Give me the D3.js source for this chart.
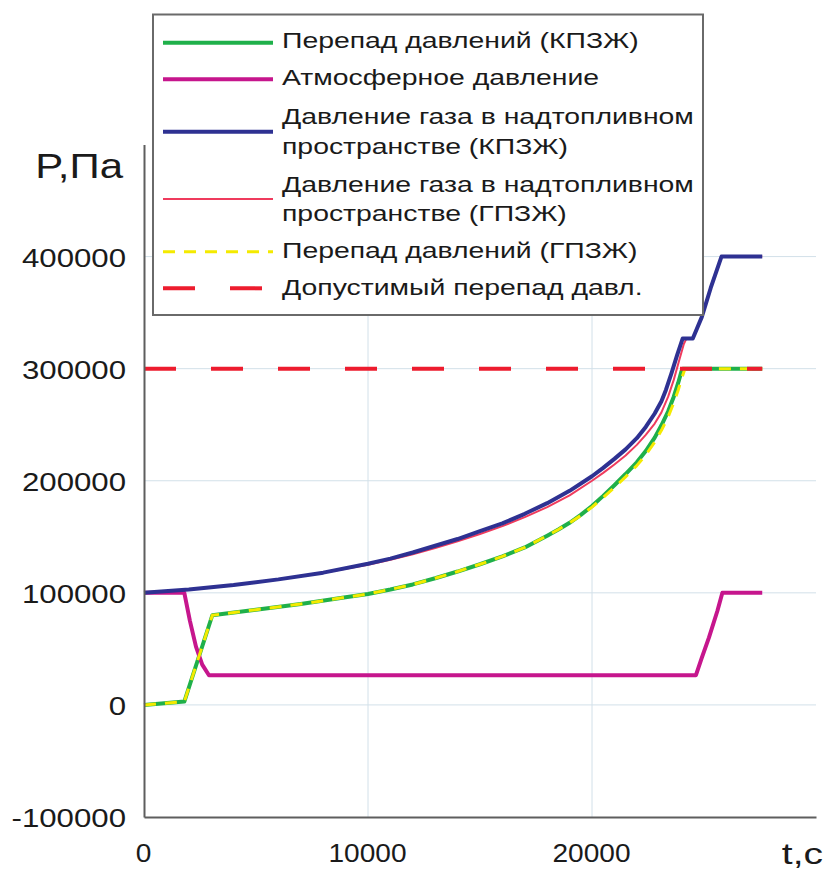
<!DOCTYPE html>
<html>
<head>
<meta charset="utf-8">
<script src="https://cdn.jsdelivr.net/npm/d3@7"></script>
<style>
  body { margin: 0; background: #fff; }
  text { font-family: "Liberation Sans", Arial, sans-serif; fill: #1a1a1a; }
</style>
</head>
<body>
<div id="chart"></div>
<script>
// данные: [t, c ; P, Па]
const perepadKPZH = [[0, 0], [1800, 3000], [3050, 80000], [5000, 85000], [7000, 90000], [9000, 96000],
  [10000, 99000], [11000, 103000], [12000, 107500], [13000, 113000], [14000, 119000], [15000, 125500],
  [16000, 132500], [17000, 140500], [18000, 151000], [18500, 156500], [19000, 162500], [19500, 169500],
  [20000, 177500], [20500, 186500], [21000, 196000], [21500, 206000], [22000, 216500], [22400, 226500],
  [22800, 238500], [23100, 249500], [23400, 262000], [23650, 275000], [23850, 287500], [24000, 298000],
  [24050, 300000], [27600, 300000]];
const atmosfera = [[0, 100000], [1800, 100000], [2050, 75000], [2320, 52000], [2600, 36000], [2900, 26500],
  [24640, 26500], [24900, 42000], [25220, 60000], [25600, 84000], [25820, 100000], [27600, 100000]];
const gazKPZH = [[0, 100000], [2000, 103000], [4000, 107000], [6000, 112000], [8000, 118000], [10000, 126000],
  [11000, 130500], [12000, 136000], [13000, 142000], [14000, 148000], [15000, 155000], [16000, 162000],
  [17000, 170500], [18000, 180000], [19000, 191000], [20000, 204000], [20500, 211500], [21000, 219500],
  [21500, 228000], [22000, 238000], [22400, 248000], [22800, 260000], [23100, 271000], [23300, 281000],
  [23550, 296000], [23800, 312000], [24050, 327000], [24500, 327000], [24900, 346000], [25300, 372000],
  [25780, 400000], [27600, 400000]];
const gazGPZH = [[0, 100000], [2000, 103000], [4000, 107000], [6000, 112000], [8000, 118000], [10000, 125000],
  [11000, 129500], [12000, 134500], [13000, 140000], [14000, 146000], [15000, 152500], [16000, 159500],
  [17000, 167500], [18000, 176500], [19000, 187000], [20000, 200000], [20500, 207000], [21000, 214500],
  [21500, 222500], [22000, 232000], [22400, 241000], [22800, 251000], [23100, 261000], [23400, 275000],
  [23650, 290000], [23900, 308000], [24100, 322000], [24220, 327000], [24500, 327000], [24900, 346000],
  [25300, 372000], [25780, 400000], [27600, 400000]];
const perepadGPZH = [[0, 0], [1800, 3000], [3050, 80000], [5000, 85000], [7000, 90000], [9000, 96000],
  [10000, 99000], [11000, 103000], [12000, 107500], [13000, 113000], [14000, 119000], [15000, 125500],
  [16000, 132500], [17000, 140500], [18000, 151000], [18500, 156500], [19000, 162500], [19500, 169000],
  [20000, 176500], [20500, 185000], [21000, 194000], [21500, 203500], [22000, 213500], [22400, 223000],
  [22800, 234500], [23100, 245000], [23400, 257000], [23650, 269500], [23850, 281000], [24000, 291000],
  [24150, 300000], [27600, 300000]];
const dopustimy = [[0, 300000], [27600, 300000]];

const xTicks = [0, 10000, 20000];
const yTicks = [-100000, 0, 100000, 200000, 300000, 400000];

const width = 827, height = 874;

const svg = d3.select("#chart").append("svg")
  .attr("width", width)
  .attr("height", height);

const x = d3.scaleLinear().domain([0, 30000]).range([144, 816]);
const y = d3.scaleLinear().domain([-100000, 500000]).range([817, 144.5]);

// сетка
const grid = svg.append("g");
grid.selectAll(".hgrid")
  .data(yTicks.filter(d => d > -100000))
  .join("line")
  .attr("x1", x(0)).attr("x2", x(30000))
  .attr("y1", d => y(d)).attr("y2", d => y(d))
  .attr("stroke", "#d2e0e9").attr("stroke-width", 1);
grid.selectAll(".vgrid")
  .data(xTicks.filter(d => d > 0))
  .join("line")
  .attr("x1", d => x(d)).attr("x2", d => x(d))
  .attr("y1", y(-100000)).attr("y2", y(500000))
  .attr("stroke", "#d2e0e9").attr("stroke-width", 1);

// линии
const series = [
  { name: "Перепад давлений (КПЗЖ)", data: perepadKPZH, color: "#1fb04a", w: 4 },
  { name: "Атмосферное давление", data: atmosfera, color: "#c6168d", w: 4 },
  { name: "Давление газа в надтопливном|пространстве (ГПЗЖ)", data: gazGPZH, color: "#ef3b5d", w: 2 },
  { name: "Давление газа в надтопливном|пространстве (КПЗЖ)", data: gazKPZH, color: "#2e3192", w: 4 },
  { name: "Перепад давлений (ГПЗЖ)", data: perepadGPZH, color: "#f4ea00", w: 3, dash: "12,9" },
  { name: "Допустимый перепад давл.", data: dopustimy, color: "#ed1c2e", w: 4, dash: "32,35" }
];

const line = d3.line().x(d => x(d[0])).y(d => y(d[1]));

svg.append("g").selectAll("path")
  .data(series)
  .join("path")
  .attr("d", d => line(d.data))
  .attr("fill", "none")
  .attr("stroke", d => d.color)
  .attr("stroke-width", d => d.w)
  .attr("stroke-dasharray", d => d.dash || null)
  .attr("stroke-linejoin", "round");

// оси
const xAxis = svg.append("g")
  .attr("transform", `translate(0,${y(-100000)})`)
  .call(d3.axisBottom(x).tickValues(xTicks).tickSize(0).tickSizeOuter(0).tickFormat(d => String(d)));
xAxis.selectAll("text")
  .attr("y", 0).attr("dy", 0)
  .attr("font-size", 26)
  .attr("transform", "translate(-1,45) scale(1.08,1)");

const yAxis = svg.append("g")
  .attr("transform", `translate(${x(0)},0)`)
  .call(d3.axisLeft(y).tickValues(yTicks).tickSize(0).tickSizeOuter(0).tickFormat(d => String(d)));
yAxis.selectAll("text")
  .attr("x", 0).attr("dy", 0)
  .attr("font-size", 26)
  .attr("transform", "translate(-18,9.5) scale(1.2,1)");

[xAxis, yAxis].forEach(a => {
  a.select(".domain").attr("stroke", "#5e5e5e").attr("stroke-width", 2);
  a.selectAll("text").attr("fill", "#1a1a1a").attr("font-family", "'Liberation Sans', Arial, sans-serif");
});

svg.append("text")
  .attr("transform", "translate(123,178) scale(1.2,1)")
  .attr("text-anchor", "end")
  .attr("font-size", 35)
  .text("P,Па");

svg.append("text")
  .attr("transform", "translate(823,864) scale(1.3,1)")
  .attr("text-anchor", "end")
  .attr("font-size", 30)
  .text("t,c");

// легенда
const legendOrder = [0, 1, 3, 2, 4, 5];
const legendLineY = [42.7, 79.3, 131.7, 199, 251.7, 288.3];
const legendTextY = [[48.3], [85], [124, 154], [192, 220.5], [258.3], [295]];

const legend = svg.append("g");
legend.append("rect")
  .attr("x", 153).attr("y", 14.5)
  .attr("width", 550).attr("height", 300.5)
  .attr("fill", "#fff")
  .attr("stroke", "#6a6a6a").attr("stroke-width", 2);

legendOrder.forEach((si, i) => {
  const s = series[si];
  legend.append("line")
    .attr("x1", 163).attr("x2", 273)
    .attr("y1", legendLineY[i]).attr("y2", legendLineY[i])
    .attr("stroke", s.color)
    .attr("stroke-width", s.w)
    .attr("stroke-dasharray", s.dash || null);
  s.name.split("|").forEach((part, k) => {
    legend.append("text")
      .attr("transform", `translate(282,${legendTextY[i][k]}) scale(1.29,1)`)
      .attr("font-size", 22)
      .text(part);
  });
});
</script>
</body>
</html>
